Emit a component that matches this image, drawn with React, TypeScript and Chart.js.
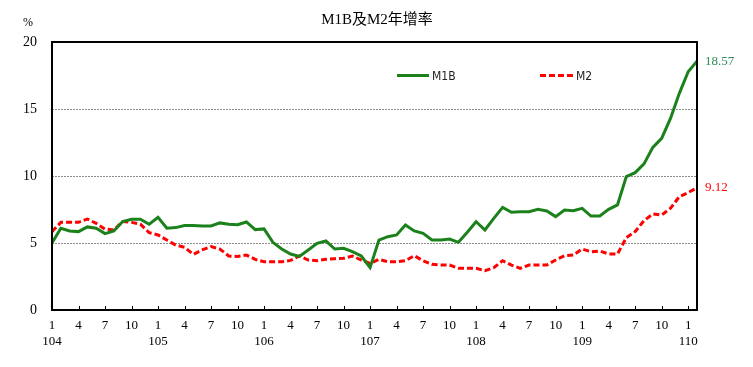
import React, { useEffect, useRef } from 'react';
import { Chart, registerables } from 'chart.js';

Chart.register(...registerables);

// ---- data ----
const years = ['104', '105', '106', '107', '108', '109', '110'];
const monthTickLabels = ['1', '4', '7', '10'];
const monthCount = 74; // 104/1 .. 110/2
const categories: string[] = Array.from({ length: monthCount }, (_, i) => `${years[Math.floor(i / 12)]}/${(i % 12) + 1}`);

const m1b = [
  5.0, 6.1, 5.9, 5.85, 6.2, 6.1, 5.7, 5.9, 6.6, 6.77,
  6.77, 6.4, 6.92, 6.1, 6.15, 6.3, 6.3, 6.27, 6.27, 6.5,
  6.4, 6.37, 6.57, 6.0, 6.05, 5.05, 4.55, 4.18, 4.0, 4.48,
  4.97, 5.15, 4.55, 4.6, 4.35, 4.03, 3.16, 5.22, 5.47, 5.6,
  6.34, 5.9, 5.72, 5.22, 5.22, 5.3, 5.05, 5.8, 6.59, 5.97,
  6.84, 7.66, 7.29, 7.34, 7.34, 7.51, 7.39, 6.97, 7.46, 7.41,
  7.59, 7.01, 7.01, 7.51, 7.84, 9.96, 10.25, 10.9, 12.14, 12.81,
  14.3, 16.17, 17.78, 18.57,
];
const m2 = [
  5.85, 6.54, 6.54, 6.54, 6.79, 6.47, 6.04, 5.97, 6.6, 6.54,
  6.4, 5.77, 5.6, 5.22, 4.85, 4.68, 4.15, 4.48, 4.73, 4.55,
  4.03, 4.0, 4.1, 3.78, 3.6, 3.6, 3.6, 3.7, 4.03, 3.73,
  3.68, 3.78, 3.83, 3.86, 4.03, 3.73, 3.48, 3.78, 3.6, 3.6,
  3.68, 4.05, 3.68, 3.41, 3.36, 3.36, 3.11, 3.11, 3.11, 2.93,
  3.16, 3.68, 3.35, 3.11, 3.36, 3.36, 3.36, 3.73, 4.05, 4.1,
  4.55, 4.35, 4.4, 4.18, 4.18, 5.4, 5.85, 6.67, 7.16, 7.09,
  7.59, 8.46, 8.76, 9.12,
];
const seriesNames = ['M1B', 'M2'];
const titleText = 'M1B及M2年增率';
const unitText = '%';

const GREEN = '#1B821B';
const RED = '#FF0000';
const SERIF = '"Liberation Serif", "Times New Roman", "Noto Sans CJK TC", serif';
const NARROW = '"DejaVu Sans Condensed", "Liberation Sans Narrow", "Liberation Sans", sans-serif';

const decor = {
  id: 'decor',
  afterDraw(chart: any) {
    const { ctx, chartArea: a, scales } = chart;
    const x = scales.x;
    ctx.save();
    // inner tick marks
    ctx.strokeStyle = '#000';
    ctx.lineWidth = 1;
    for (let i = 3; i < categories.length; i += 3) {
      const px = Math.round(x.getPixelForValue(i)) + 0.5;
      ctx.beginPath();
      ctx.moveTo(px, a.bottom);
      ctx.lineTo(px, a.bottom - 4);
      ctx.stroke();
    }
    // frame
    ctx.lineWidth = 2;
    ctx.strokeRect(a.left, a.top, a.right - a.left, a.bottom - a.top);

    // title and unit
    ctx.fillStyle = '#000';
    ctx.textAlign = 'center';
    ctx.textBaseline = 'middle';
    ctx.font = `15px ${SERIF}`;
    ctx.fillText(titleText, 377, 20);
    ctx.font = `12px ${SERIF}`;
    ctx.fillText(unitText, 28, 23);

    // legend
    const ly = a.top + 33.5;
    ctx.lineWidth = 3;
    ctx.strokeStyle = GREEN;
    ctx.setLineDash([]);
    ctx.beginPath();
    ctx.moveTo(a.left + 345, ly);
    ctx.lineTo(a.left + 377, ly);
    ctx.stroke();
    ctx.strokeStyle = RED;
    ctx.setLineDash([6, 3]);
    ctx.beginPath();
    ctx.moveTo(a.left + 488, ly);
    ctx.lineTo(a.left + 521, ly);
    ctx.stroke();
    ctx.setLineDash([]);
    ctx.fillStyle = '#222';
    ctx.textAlign = 'left';
    ctx.font = `12px ${NARROW}`;
    ctx.fillText(seriesNames[0], a.left + 380, ly + 1);
    ctx.fillText(seriesNames[1], a.left + 524, ly + 1);

    // end labels
    ctx.font = `13px ${SERIF}`;
    const colors = ['#2E8B57', RED];
    chart.data.datasets.forEach((ds: any, di: number) => {
      const meta = chart.getDatasetMeta(di);
      const pt = meta.data[meta.data.length - 1];
      ctx.fillStyle = colors[di];
      ctx.fillText(ds.data[ds.data.length - 1].toFixed(2), pt.x + 8, pt.y);
    });
    ctx.restore();
  },
};

export default function App() {
  const ref = useRef<HTMLCanvasElement>(null);
  useEffect(() => {
    document.body.style.margin = '0';
    const chart = new Chart(ref.current!, {
      type: 'line',
      data: {
        labels: categories,
        datasets: [
          { label: seriesNames[0], data: m1b, borderColor: GREEN, borderWidth: 3, pointRadius: 0, tension: 0, fill: false },
          { label: seriesNames[1], data: m2, borderColor: RED, borderWidth: 3, borderDash: [6, 3], pointRadius: 0, tension: 0, fill: false },
        ],
      },
      options: {
        responsive: false,
        animation: false,
        devicePixelRatio: 1,
        layout: { padding: { top: 42, right: 56, left: 0, bottom: 0 } },
        plugins: { legend: { display: false }, tooltip: { enabled: false }, title: { display: false } },
        scales: {
          x: {
            type: 'category',
            offset: false,
            grid: { display: false, drawTicks: false },
            border: { display: false },
            ticks: {
              autoSkip: false,
              maxRotation: 0,
              minRotation: 0,
              padding: 8,
              color: '#000',
              font: { family: SERIF, size: 13 },
              callback: (_v: any, idx: number) => {
                if (idx % 3 !== 0) return '';
                const m = monthTickLabels[(idx % 12) / 3];
                return idx % 12 === 0 ? [m, years[idx / 12]] : m;
              },
            },
            afterFit: (s: any) => { s.height = 57; },
          },
          y: {
            min: 0,
            max: 20,
            grid: {
              drawTicks: false,
              lineWidth: 1,
              color: (c: any) => (c.tick && (c.tick.value === 0 || c.tick.value === 20) ? 'rgba(0,0,0,0)' : '#8c8c8c'),
            },
            border: { display: false, dash: [2, 1] },
            ticks: { stepSize: 5, padding: 15, color: '#000', font: { family: SERIF, size: 14 } },
            afterFit: (s: any) => { s.width = 52; },
          },
        },
      },
      plugins: [decor],
    });
    return () => chart.destroy();
  }, []);
  return (
    <div style={{ width: 753, height: 367 }}>
      <canvas ref={ref} width={753} height={367} />
    </div>
  );
}
